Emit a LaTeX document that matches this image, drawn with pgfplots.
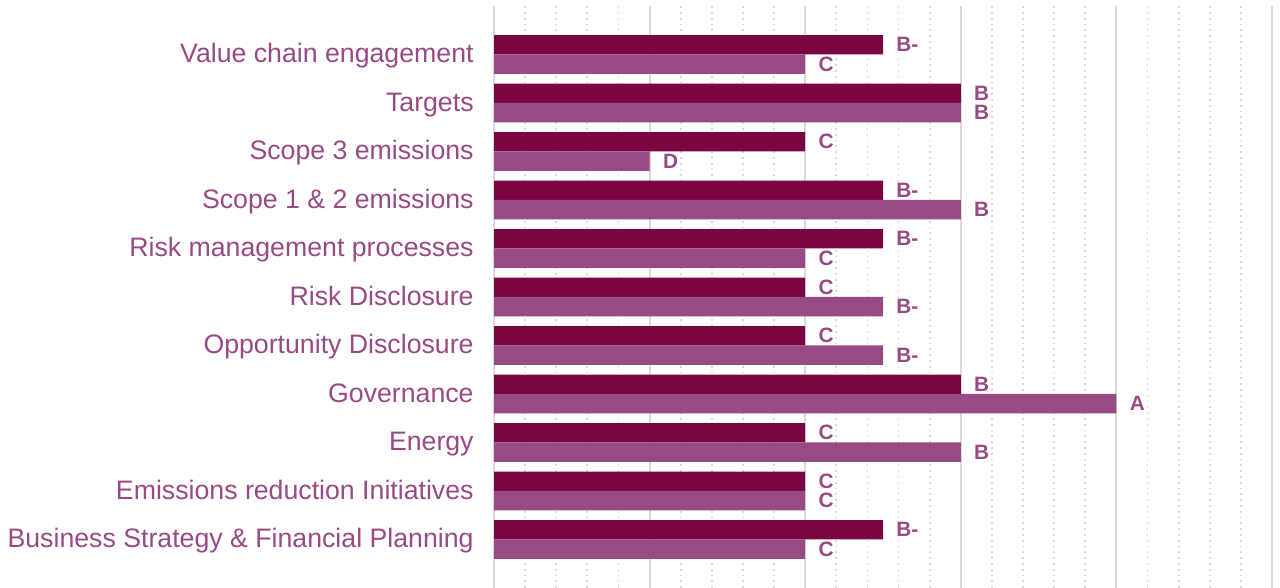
\documentclass[border=0pt]{standalone}
\usepackage{pgfplots}
\pgfplotsset{compat=1.18}
\usepackage{pgfplotstable}
\usepackage{fontspec}
\setmainfont{Liberation Sans}
\definecolor{dark}{HTML}{7B0541}
\definecolor{light}{HTML}{984A84}
\definecolor{gridc}{HTML}{D9D9D9}

\pgfplotstableread{
y val lab
0 2.5 B-
1 2 C
2 2 C
3 3 B
4 2 C
5 2 C
6 2.5 B-
7 2.5 B-
8 2 C
9 3 B
10 2.5 B-
}\darkdata
\pgfplotstableread{
y val lab
0 2 C
1 2 C
2 3 B
3 4 A
4 2.5 B-
5 2.5 B-
6 2 C
7 3 B
8 1 D
9 3 B
10 2 C
}\lightdata

\begin{document}
\begin{tikzpicture}
\begin{axis}[
  at={(247pt,0pt)}, anchor=south west,
  scale only axis, width=389pt, height=291pt,
  xmin=0, xmax=5, ymin=-1, ymax=11,
  axis line style={draw=none},
  xtick={0,1,2,3,4,5}, xticklabels={},
  minor x tick num=4,
  major tick length=0pt, minor tick length=0pt,
  xmajorgrids, xminorgrids,
  major x grid style={gridc, line width=1pt},
  minor x grid style={gridc, line width=0.9pt, dotted},
  ytick={0,...,10},
  yticklabels={Business Strategy \& Financial Planning, Emissions reduction Initiatives, Energy, Governance, Opportunity Disclosure, Risk Disclosure, Risk management processes, Scope 1 \& 2 emissions, Scope 3 emissions, Targets, Value chain engagement},
  yticklabel style={font=\fontsize{13.35}{15}\selectfont, color=light, inner sep=0pt, xshift=-10pt, yshift=-0.8pt, text height=9.6pt, text depth=2.8pt, anchor=east},
  xbar, bar width=9.7pt,
  point meta=explicit symbolic,
  nodes near coords,
  nodes near coords style={font=\bfseries\fontsize{10.4}{12}\selectfont, color=light, anchor=west, inner sep=0pt, xshift=6.5pt},
]
\addplot[fill=dark, draw=none, bar shift=4.85pt] table[x=val, y=y, meta=lab] {\darkdata};
\addplot[fill=light, draw=none, bar shift=-4.85pt] table[x=val, y=y, meta=lab] {\lightdata};
\end{axis}
\pgfresetboundingbox
\path (0,0) rectangle (640pt,294pt);
\end{tikzpicture}
\end{document}
